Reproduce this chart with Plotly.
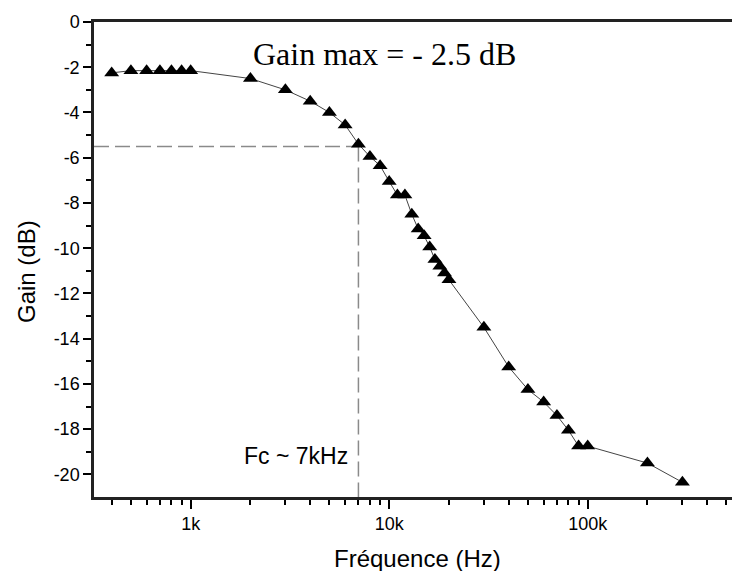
import plotly.graph_objects as go
import math

# ---- data ----
freq_hz = [400, 500, 600, 700, 800, 900, 1000, 2000, 3000, 4000, 5000, 6000, 7000,
           8000, 9000, 10000, 11000, 12000, 13000, 14000, 15000, 16000, 17000, 18000,
           19000, 20000, 30000, 40000, 50000, 60000, 70000, 80000, 90000, 100000,
           200000, 300000]
gain_db = [-2.25, -2.15, -2.15, -2.15, -2.15, -2.15, -2.15, -2.5, -3.0, -3.5, -4.0, -4.55, -5.4,
           -5.95, -6.35, -7.05, -7.65, -7.65, -8.5, -9.15, -9.45, -9.95, -10.5, -10.8,
           -11.1, -11.4, -13.5, -15.25, -16.25, -16.8, -17.4, -18.05, -18.75, -18.75,
           -19.5, -20.35]

fc_hz = 7000
fc_gain = -5.5

x_tick_vals = [1000, 10000, 100000]
x_tick_text = ["1k", "10k", "100k"]
y_tick_vals = [0, -2, -4, -6, -8, -10, -12, -14, -16, -18, -20]
y_tick_text = ["0", "-2", "-4", "-6", "-8", "-10", "-12", "-14", "-16", "-18", "-20"]

x_range_log = [2.513, 5.727]
y_range = [-21, 0]

W, H = 732, 571
ML, MR, MT, MB = 94, 0, 22, 74

minor_x = [m * 10 ** d for d in range(2, 6) for m in range(2, 10)]
minor_x = [v for v in minor_x if x_range_log[0] <= math.log10(v) <= x_range_log[1]]
minor_y = [-1, -3, -5, -7, -9, -11, -13, -15, -17, -19]

SANS = "Liberation Sans, Arial, sans-serif"
SERIF = "Liberation Serif, Times New Roman, serif"

fig = go.Figure()

# guide (dashed) lines to the cut-off point
x_left = 10 ** x_range_log[0]
fig.add_trace(go.Scatter(x=[x_left, fc_hz], y=[fc_gain, fc_gain], mode="lines",
                         line=dict(color="#8a8a8a", width=1.5, dash="15px,6px"),
                         hoverinfo="skip", showlegend=False))
fig.add_trace(go.Scatter(x=[fc_hz, fc_hz], y=[fc_gain, y_range[0]], mode="lines",
                         line=dict(color="#8a8a8a", width=1.5, dash="15px,6px"),
                         hoverinfo="skip", showlegend=False))

# measured response
fig.add_trace(go.Scatter(x=freq_hz, y=gain_db, mode="lines+markers",
                         line=dict(color="#444444", width=1),
                         marker=dict(symbol="triangle-up", size=13, color="black"),
                         showlegend=False))

fig.update_xaxes(type="log", range=x_range_log,
                 tickvals=x_tick_vals, ticktext=x_tick_text,
                 ticks="outside", ticklen=9, tickwidth=1.5, tickcolor="black",
                 minor=dict(tickvals=minor_x, ticks="outside", ticklen=5, tickwidth=1.5,
                            tickcolor="black", showgrid=False),
                 showline=True, linecolor="#222222", linewidth=2.5, mirror=True,
                 showgrid=False, zeroline=False,
                 tickfont=dict(family=SANS, size=18, color="black"))
fig.update_yaxes(range=y_range,
                 tickvals=y_tick_vals, ticktext=y_tick_text,
                 ticks="outside", ticklen=8, tickwidth=1.5, tickcolor="black",
                 minor=dict(tickvals=minor_y, ticks="outside", ticklen=5, tickwidth=1.5,
                            tickcolor="black", showgrid=False),
                 showline=True, linecolor="#222222", linewidth=2.5,
                 showgrid=False, zeroline=False,
                 tickfont=dict(family=SANS, size=18, color="black"))

pw = W - ML - MR
ph = H - MT - MB

def px(xp):
    return (xp - ML) / pw

def py(yp):
    return (H - MB - yp) / ph

fig.add_annotation(text="Gain max = - 2.5 dB", xref="paper", yref="paper",
                   x=px(384), y=py(54), xanchor="center", yanchor="middle",
                   showarrow=False, font=dict(family=SERIF, size=32, color="black"))
fig.add_annotation(text="Fc ~ 7kHz", xref="paper", yref="paper",
                   x=px(350), y=py(456), xanchor="right", yanchor="middle",
                   showarrow=False, font=dict(family=SANS, size=23, color="black"))
fig.add_annotation(text="Fréquence (Hz)", xref="paper", yref="paper",
                   x=px(417), y=py(558), xanchor="center", yanchor="middle",
                   showarrow=False, font=dict(family=SANS, size=24, color="black"))
fig.add_annotation(text="Gain (dB)", xref="paper", yref="paper",
                   x=px(26), y=py(272), xanchor="center", yanchor="middle", textangle=-90,
                   showarrow=False, font=dict(family=SANS, size=24, color="black"))

fig.update_layout(width=W, height=H, margin=dict(l=ML, r=MR, t=MT, b=MB),
                  plot_bgcolor="white", paper_bgcolor="white", showlegend=False)

fig.write_html("out.html", config={"displayModeBar": False},
               post_script="document.body.style.margin='0';document.body.style.overflow='hidden';")
